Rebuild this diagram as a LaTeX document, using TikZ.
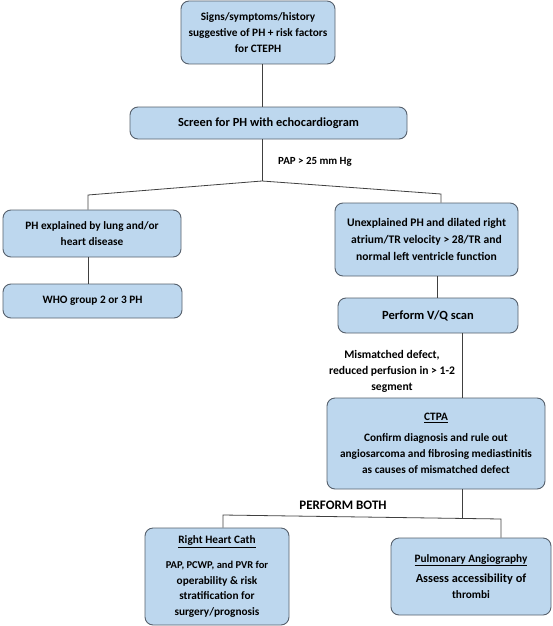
\documentclass[tikz,border=0pt]{standalone}
\usepackage{fontspec}
\setmainfont{Carlito}
\usetikzlibrary{calc}
\definecolor{boxfill}{HTML}{BDD7EE}
\definecolor{boxline}{HTML}{56606C}
\definecolor{conn}{HTML}{404040}
\begin{document}
\begin{tikzpicture}[x=1pt,y=-1pt,
  box/.style={draw=boxline,line width=0.9pt,fill=boxfill,rounded corners=8pt,
    align=center,inner sep=2pt,font=\fontsize{11.3}{15.8}\selectfont\bfseries},
  conline/.style={draw=conn,line width=0.8pt},
  lbl/.style={font=\fontsize{11.2}{16}\selectfont\bfseries,align=center,inner sep=0pt}]
\useasboundingbox (0,0) rectangle (552,626);
% boxes
\node[box,minimum width=154pt,minimum height=63pt] (b1) at (258,32.5)
  {Signs/symptoms/history\\suggestive of PH + risk factors\\for CTEPH};
\node[box,minimum width=277pt,minimum height=32pt,font=\fontsize{12.4}{14}\selectfont\bfseries] (b2) at (268.5,123)
  {Screen for PH with echocardiogram};
\node[box,minimum width=178pt,minimum height=47pt] (b3) at (92,233.5)
  {PH explained by lung and/or\\heart disease};
\node[box,minimum width=179pt,minimum height=34pt] (b4) at (92.5,301)
  {WHO group 2 or 3 PH};
\node[box,minimum width=183pt,minimum height=73pt,font=\fontsize{11.6}{17}\selectfont\bfseries] (b5) at (426.5,239.5)
  {Unexplained PH and dilated right\\atrium/TR velocity > 28/TR and\\normal left ventricle function};
\node[box,minimum width=180pt,minimum height=35pt,font=\fontsize{12.5}{14}\selectfont\bfseries] (b6) at (428,315.5)
  {Perform V/Q scan};
\node[box,minimum width=218pt,minimum height=91pt] (b7) at (436,443.5)
  {\underline{CTPA}\\[5pt]Confirm diagnosis and rule out\\angiosarcoma and fibrosing mediastinitis\\as causes of mismatched defect};
\node[box,minimum width=144pt,minimum height=97pt] (b8) at (217,576.5)
  {\underline{Right Heart Cath}\\[9pt]\fontsize{10.5}{14.3}\selectfont PAP, PCWP, and PVR for\\operability \& risk\\stratification for\\surgery/prognosis};
\node[box,minimum width=160pt,minimum height=77pt] (b9) at (471,576.5)
  {\underline{Pulmonary Angiography}\\[5pt]\fontsize{12.3}{17}\selectfont Assess accessibility of\\thrombi};
% labels
\node[lbl,anchor=west,font=\fontsize{10.9}{14}\selectfont\bfseries] (l1) at (278,162) {PAP > 25 mm Hg};
\node[lbl,font=\fontsize{11.6}{16}\selectfont\bfseries] (l2) at (392,371) {Mismatched defect,\\reduced perfusion in > 1-2\\segment};
\node[lbl,font=\fontsize{13}{14}\selectfont\bfseries] (l3) at (343,505) {PERFORM BOTH};
% junction coordinates
\coordinate (j1) at (262,181);
\coordinate (jl) at (88,195);
\coordinate (jr) at (441,194);
\coordinate (jv) at (437,0);
\coordinate (jc) at (462,0);
\coordinate (k1) at (462,517.5);
\coordinate (kl) at (223,515);
\coordinate (kr) at (501,519);
% connectors
\draw[conline] (j1 |- b1.south) -- (j1 |- b2.north);
\draw[conline] (j1 |- b2.south) -- (j1);
\draw[conline] (j1) -- (jl) -- (jl |- b3.north);
\draw[conline] (j1) -- (jr) -- (jr |- b5.north);
\draw[conline] (jl |- b3.south) -- (jl |- b4.north);
\draw[conline] (jv |- b5.south) -- (jv |- b6.north);
\draw[conline] (jc |- b6.south) -- (jc |- b7.north);
\draw[conline] (jc |- b7.south) -- (k1);
\draw[conline] (kl |- b8.north) -- (kl) -- (kr) -- (kr |- b9.north);
\end{tikzpicture}
\end{document}
